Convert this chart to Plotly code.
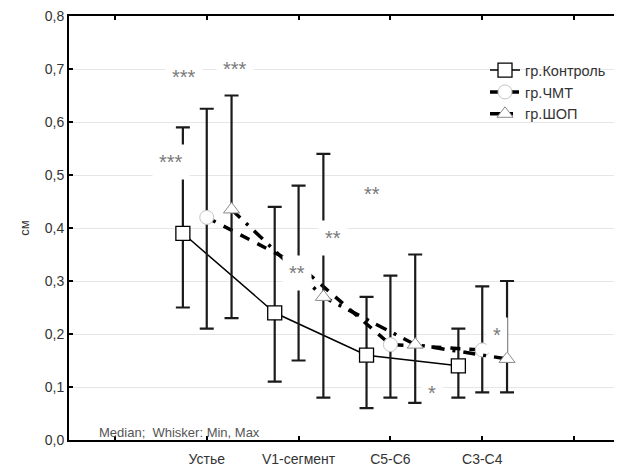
import plotly.graph_objects as go

categories = ["Устье", "V1-сегмент", "C5-C6", "C3-C4"]

control_med = [0.39, 0.24, 0.16, 0.14]
control_min = [0.25, 0.11, 0.06, 0.08]
control_max = [0.59, 0.44, 0.27, 0.21]

chmt_med = [0.42, 0.33, 0.18, 0.17]
chmt_min = [0.21, 0.15, 0.08, 0.09]
chmt_max = [0.625, 0.48, 0.31, 0.29]

shop_med = [0.435, 0.27, 0.18, 0.153]
shop_min = [0.23, 0.08, 0.07, 0.09]
shop_max = [0.65, 0.54, 0.35, 0.30]

series_names = ["гр.Контроль", "гр.ЧМТ", "гр.ШОП"]

sig_labels = ["***", "***", "***", "**", "**", "**", "*", "*"]
sig_x = [-0.39, -0.25, 0.31, 0.98, 1.37, 1.80, 2.45, 3.16]
sig_y = [0.53, 0.69, 0.705, 0.32, 0.387, 0.47, 0.095, 0.204]

offsets = [-0.26, 0.0, 0.27]
FONT = "Liberation Sans, Arial, sans-serif"

fig = go.Figure()

styles = [
    dict(symbol="square", line=dict(color="black", width=1.5, dash="solid"),
         mline=dict(color="black", width=1.3)),
    dict(symbol="circle", line=dict(color="black", width=3.5, dash="10px,9px"),
         mline=dict(color="#c4c4c4", width=1)),
    dict(symbol="triangle-up", line=dict(color="black", width=3.5, dash="12px,8px,3px,8px"),
         mline=dict(color="#8a8a8a", width=1)),
]

data = [
    (control_med, control_min, control_max),
    (chmt_med, chmt_min, chmt_max),
    (shop_med, shop_min, shop_max),
]

for i, (med, mn, mx) in enumerate(data):
    xs = [k + offsets[i] for k in range(len(categories))]
    st = styles[i]
    fig.add_trace(go.Scatter(
        x=xs, y=med, name=series_names[i], mode="lines+markers",
        line=st["line"],
        marker=dict(symbol=st["symbol"], size=14, color="white", line=st["mline"]),
        error_y=dict(type="data", symmetric=False,
                     array=[a - b for a, b in zip(mx, med)],
                     arrayminus=[b - a for a, b in zip(mn, med)],
                     color="#1a1a1a", thickness=2.2, width=7),
    ))

for lab, x, y in zip(sig_labels, sig_x, sig_y):
    fig.add_annotation(x=x, y=y, xref="x", yref="y", text=lab, showarrow=False,
                       font=dict(family=FONT, size=20, color="#7a7a7a"),
                       bgcolor="white", borderpad=6, yshift=-3)

fig.add_annotation(x=0.05, y=0.015, xref="paper", yref="y", text="Median;  Whisker: Min, Max",
                   showarrow=False, xanchor="left", yanchor="middle",
                   font=dict(family=FONT, size=13, color="#555555"))

# page body has an 8px margin: shift figure so the plot area matches the reference
fig.update_layout(
    width=614, height=463,
    margin=dict(l=61, r=0, t=8, b=31),
    paper_bgcolor="white", plot_bgcolor="white",
    separators=", ",
    font=dict(family=FONT, size=14, color="#333333"),
    showlegend=True,
    legend=dict(x=0.755, y=0.91, xanchor="left", yanchor="top",
                bgcolor="rgba(0,0,0,0)", font=dict(size=14.5, color="#333333"),
                tracegroupgap=0),
)
fig.update_xaxes(range=[-1.5, 4.5], tickvals=[-1, 0, 1, 2, 3, 4],
                 ticktext=[""] + categories + [""],
                 showgrid=False, zeroline=False,
                 showline=True, linecolor="black", linewidth=2, mirror="ticks",
                 ticks="inside", ticklen=4, tickwidth=1.5, tickcolor="black",
                 ticklabelstandoff=5, ticklabeloverflow="allow")
fig.update_yaxes(range=[0, 0.8], dtick=0.1, tickformat=".1f",
                 showgrid=True, gridcolor="#e6e6e6", gridwidth=1, zeroline=False,
                 showline=True, linecolor="black", linewidth=2, mirror="ticks",
                 ticks="inside", ticklen=4, tickwidth=1.5, tickcolor="black",
                 ticklabeloverflow="allow",
                 title=dict(text="см", font=dict(size=13, color="#333333"), standoff=12))

fig.write_html("out.html")
